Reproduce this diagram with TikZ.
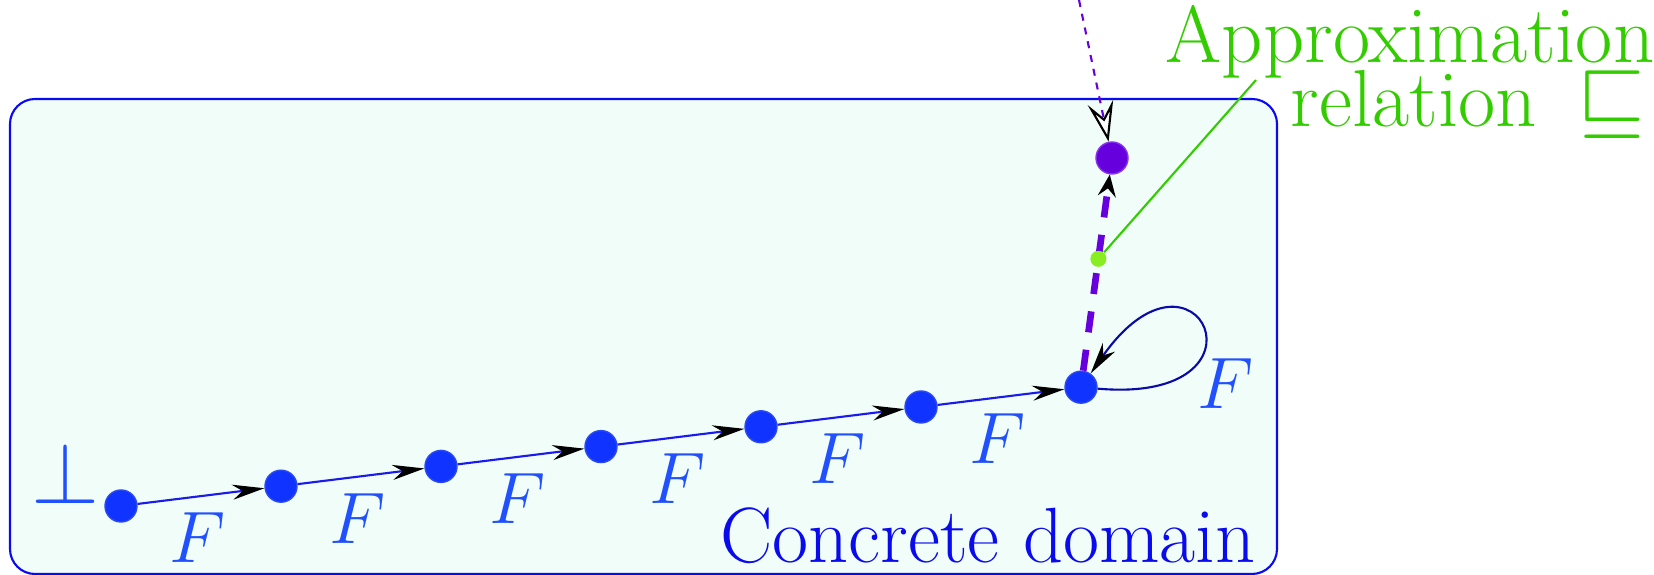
\documentclass[tikz,border=0pt]{standalone}
\usepackage{xcolor}
\usepackage{tikz}
\usetikzlibrary{arrows.meta, calc}

\definecolor{boxfill}{HTML}{F0FDF8}
\definecolor{boxline}{HTML}{0A0AF0}
\definecolor{dotblue}{HTML}{1133FF}
\definecolor{dotedge}{HTML}{2A4AF0}
\definecolor{edgeblue}{HTML}{1A1AEE}
\definecolor{fblue}{HTML}{2050FF}
\definecolor{domblue}{HTML}{0A0AEE}
\definecolor{loopblue}{HTML}{0A0AA8}
\definecolor{approxpurple}{HTML}{6600DD}
\definecolor{purpleedge}{HTML}{8833EE}
\definecolor{approxgreen}{HTML}{33CC00}
\definecolor{dotgreen}{HTML}{88EE22}

\begin{document}
\begin{tikzpicture}[
    every node/.style={font=\fontsize{22.3}{24}\selectfont},
    domainbox/.style={draw=boxline, fill=boxfill, line width=0.6pt, rounded corners=0.25cm},
    dot/.style={circle, fill=dotblue, draw=dotedge, line width=0.4pt, inner sep=0pt, minimum size=0.32cm},
    topdot/.style={circle, fill=approxpurple, draw=purpleedge, line width=0.4pt, inner sep=0pt, minimum size=0.32cm},
    relmark/.style={circle, fill=dotgreen, inner sep=0pt, minimum size=0.16cm},
    arr/.style={-{Stealth[length=3.2mm, width=1.5mm, inset=1mm, color=black]}},
    stepedge/.style={arr, draw=edgeblue, line width=0.6pt},
    flab/.style={midway, xshift=-0.03cm, yshift=-0.42cm, text=fblue},
    greentext/.style={anchor=base east, text=approxgreen, inner sep=0pt, font=\fontsize{23}{24}\selectfont},
]
    \useasboundingbox (0,0) rectangle (16.54,5.75);
    \draw[domainbox] (0.10,0.01) rectangle (12.77,4.76);

    \node[anchor=base, text=fblue, font=\fontsize{27}{30}\selectfont] (bot) at (0.655,0.71) {$\bot$};
    \foreach \i in {0,...,6}
        \node[dot] (n\i) at ({1.21+1.6*\i},{0.69+0.198*\i}) {};
    \foreach \i in {0,...,5}{
        \pgfmathtruncatemacro\j{\i+1}
        \draw[stepedge] (n\i) -- node[flab] {$F$} (n\j);
    }
    \draw[arr, draw=loopblue, line width=0.6pt] (n6) to[out=-5, in=55, distance=1.85cm] (n6);
    \node[text=fblue] (floop) at (12.26,1.91) {$F$};

    \node[topdot] (limit) at (11.12,4.17) {};
    \draw[-{Stealth[length=2.2mm, width=1.8mm, inset=0.8mm, color=black]}, draw=approxpurple,
        line width=1.9pt, dash pattern=on 6pt off 5pt] (n6) -- (limit);
    \node[relmark] (rel) at ($(n6)!0.56!(limit)$) {};

    \coordinate (src) at (10.79,5.75);
    \draw[-{Stealth[length=4mm, width=2.6mm, inset=1.6mm, color=black, fill=white, line width=0.6pt]},
        draw=approxpurple, line width=0.6pt, dash pattern=on 2pt off 2pt] (src) -- (limit);

    \node[greentext] (approx) at (16.55,5.12) {Approximation};
    \node[greentext] (relname) at (16.46,4.48) {relation\enspace$\sqsubseteq$};
    \draw[approxgreen, line width=0.6pt] (rel) -- (12.56,4.95);

    \node[anchor=base east, text=domblue] (dom) at (12.68,0.12) {Concrete domain};
\end{tikzpicture}
\end{document}
